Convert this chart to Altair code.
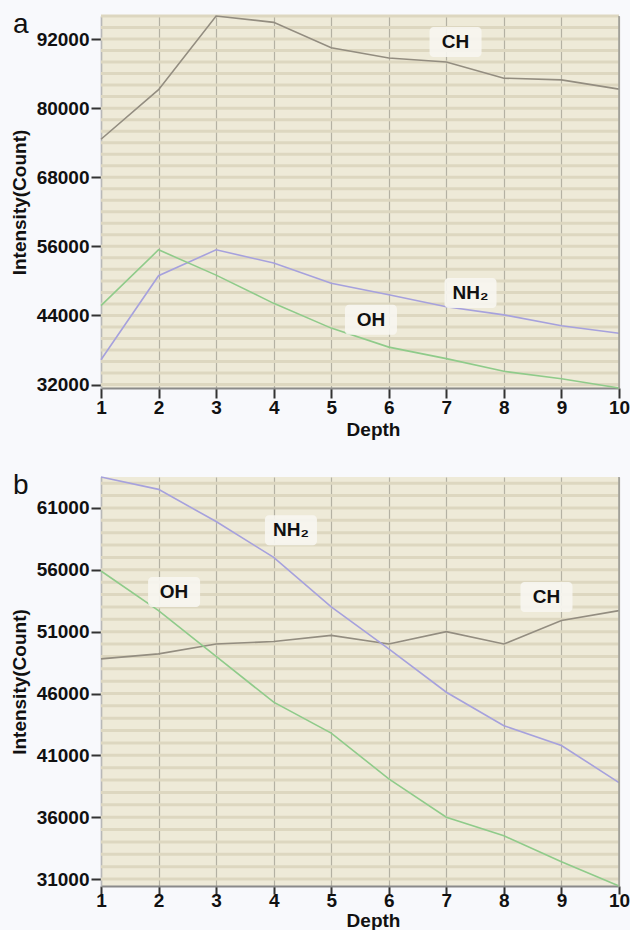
import altair as alt
import pandas as pd

# ---------------- data ----------------
depth = list(range(1, 11))

a_ch = [74600, 83200, 96000, 94900, 90500, 88700, 88000, 85200, 84900, 83300]
a_nh2 = [36300, 50900, 55400, 53100, 49600, 47600, 45500, 44100, 42200, 40900]
a_oh = [45700, 55400, 51000, 46100, 41800, 38500, 36500, 34300, 33000, 31400]

b_ch = [48800, 49200, 50000, 50200, 50700, 50000, 51000, 50000, 51900, 52700]
b_nh2 = [63500, 62500, 59900, 57000, 53000, 49600, 46100, 43400, 41800, 38800]
b_oh = [55900, 52700, 49000, 45300, 42800, 39100, 36000, 34500, 32400, 30440]

series = ["CH", "NH₂", "OH"]
colors = ["#938d80", "#a6a1dd", "#8fcb8a"]

a_ticks = [32000, 44000, 56000, 68000, 80000, 92000]
b_ticks = [31000, 36000, 41000, 46000, 51000, 56000, 61000]

a_lab_text = ["CH", "NH₂", "OH"]
a_lab_x = [7.16, 7.42, 5.69]
a_lab_y = [91500, 47900, 43250]

b_lab_text = ["NH₂", "OH", "CH"]
b_lab_x = [4.30, 2.27, 8.74]
b_lab_y = [59200, 54200, 53800]

FONT = "Liberation Sans"
W = 518
FS = 19


def panel(vals, ticks, stripe_step, lab_text, lab_x, lab_y, height, letter,
          xtick, xlabpad, xtitlepad):
    rows = []
    for name, v in zip(series, vals):
        for d, y in zip(depth, v):
            rows.append({"Depth": d, "Intensity": y, "Series": name})
    df = pd.DataFrame(rows)

    yaxis = alt.Axis(
        values=ticks, format="d", labelOverlap=False,
        title="Intensity(Count)",
        titleFontSize=FS, titleFontWeight="bold", titleColor="#111",
        titlePadding=7,
        labelFontSize=FS, labelFontWeight="bold", labelColor="#111",
        labelPadding=2,
        tickSize=10, tickWidth=2, tickColor="#333",
        grid=False,
        domainColor="#b8b8b8", domainWidth=1.5,
    )
    xaxis = alt.Axis(
        values=depth, format="d", labelOverlap=False, labelFlush=False,
        title="Depth",
        titleFontSize=FS, titleFontWeight="bold", titleColor="#111",
        titlePadding=xtitlepad, titleX=272,
        labelFontSize=FS, labelFontWeight="bold", labelColor="#111",
        labelPadding=xlabpad,
        tickSize=xtick, tickWidth=2, tickColor="#333",
        grid=True, gridColor="#b4b1a3", gridWidth=1.2,
        domainColor="#8a8a8a", domainWidth=2,
    )
    x = alt.X("Depth:Q", axis=xaxis, scale=alt.Scale(domain=[1, 10], nice=False, zero=False))
    y = alt.Y("Intensity:Q", axis=yaxis, scale=alt.Scale(nice=False, zero=False))

    # horizontal background stripes (minor grid)
    stripes = pd.DataFrame({"Intensity": list(range(ticks[0], ticks[-1] + 4 * stripe_step + 1, stripe_step))})
    stripe_rules = alt.Chart(stripes).transform_filter(
        alt.datum.Intensity <= max(max(v) for v in vals)
    ).mark_rule(color="#ddd7c0", strokeWidth=3).encode(y=alt.Y("Intensity:Q"))

    lines = alt.Chart(df).mark_line(strokeWidth=1.6).encode(
        x=x, y=y,
        color=alt.Color("Series:N", scale=alt.Scale(domain=series, range=colors), legend=None),
    )

    lab = pd.DataFrame({"t": lab_text, "Depth": lab_x, "Intensity": lab_y})
    boxes = alt.Chart(lab).mark_rect(width=52, height=30, color="#f7f6f1", cornerRadius=4, opacity=0.9).encode(
        x="Depth:Q", y="Intensity:Q"
    )
    texts = alt.Chart(lab).mark_text(font=FONT, fontSize=FS, fontWeight="bold", color="#111").encode(
        x="Depth:Q", y="Intensity:Q", text="t:N"
    )

    border = alt.Chart(pd.DataFrame({"d": [10]})).mark_rule(color="#9c9c96", strokeWidth=1.5).encode(
        x=alt.X("d:Q"), y=alt.value(0), y2=alt.value(height)
    )

    letter_mark = alt.Chart(pd.DataFrame({"t": [letter]})).mark_text(
        font=FONT, fontSize=28, align="left", baseline="alphabetic", color="#111"
    ).encode(text="t:N", x=alt.value(-88), y=alt.value(17))

    return alt.layer(stripe_rules, lines, boxes, texts, border, letter_mark).properties(width=W, height=height)


pa = panel([a_ch, a_nh2, a_oh], a_ticks, 2000, a_lab_text, a_lab_x, a_lab_y, 372, "a", 10, 0, 3)
pb = panel([b_ch, b_nh2, b_oh], b_ticks, 1000, b_lab_text, b_lab_x, b_lab_y, 409, "b", 8, -3, 1)

chart = alt.vconcat(pa, pb, spacing=89, bounds="flush").properties(
    background="#f8f9fc",
    padding={"left": 10, "top": 11, "right": 0, "bottom": 0},
).configure(font=FONT).configure_view(fill="#eeead8", stroke=None)

chart.save("out.html", embed_options={"renderer": "svg", "actions": False})
